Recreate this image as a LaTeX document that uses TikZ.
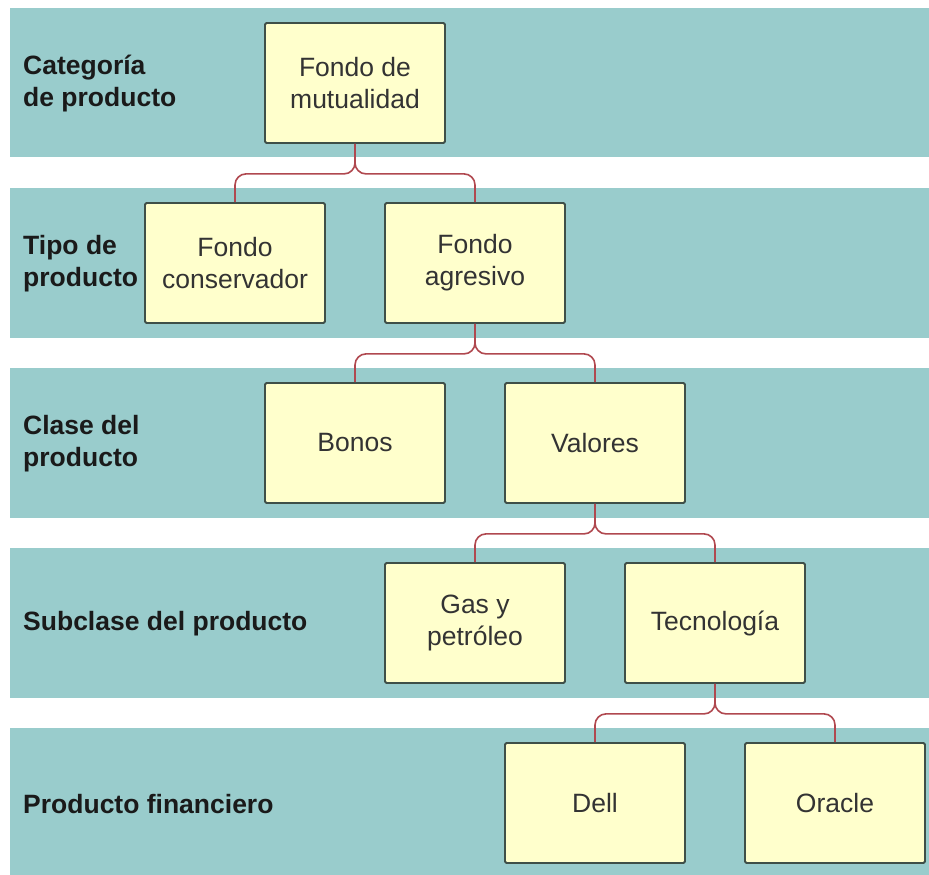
\documentclass[tikz,border=0pt]{standalone}
\usepackage{fontspec}
\setmainfont{Liberation Sans}
\begin{document}
\begin{tikzpicture}[x=1pt,y=-1pt,
  band/.style={fill=bandcol,draw=none},
  box/.style={draw=boxline,line width=1.8pt,fill=boxfill,rounded corners=1.5pt,
    minimum width=180pt,minimum height=120pt,inner sep=0pt,align=center,
    text=boxtext,font=\fontsize{26.5}{32}\selectfont},
  lab/.style={anchor=west,align=left,inner sep=0pt,text=labtext,
    font=\fontsize{26.5}{32}\selectfont\bfseries},
  conn/.style={draw=conncol,line width=1.6pt,rounded corners=11pt}]
\definecolor{bandcol}{HTML}{99CCCC}
\definecolor{boxfill}{HTML}{FFFFCC}
\definecolor{boxline}{HTML}{3F4F48}
\definecolor{boxtext}{HTML}{333333}
\definecolor{labtext}{HTML}{1A1A1A}
\definecolor{conncol}{HTML}{B0484F}
\useasboundingbox (0,0) rectangle (929,875);
\fill[white] (0,0) rectangle (929,875);
% bands
\path[band] (10,8) rectangle (929,157);
\path[band] (10,188) rectangle (929,338);
\path[band] (10,368) rectangle (929,518);
\path[band] (10,548) rectangle (929,698);
\path[band] (10,728) rectangle (929,875);
% labels
\node[lab] (l1) at (23,84) {Categoría\\de producto};
\node[lab] (l2) at (23,264) {Tipo de\\producto};
\node[lab] (l3) at (23,444) {Clase del\\producto};
\node[lab] (l4) at (23,624) {Subclase del producto};
\node[lab] (l5) at (23,804) {Producto financiero};
% boxes
\node[box] (fm) at (355,83) {Fondo de\\mutualidad};
\node[box] (fc) at (235,263) {Fondo\\conservador};
\node[box] (fa) at (475,263) {Fondo\\agresivo};
\node[box] (bo) at (355,443) {Bonos};
\node[box] (va) at (595,443) {Valores};
\node[box] (gp) at (475,623) {Gas y\\petróleo};
\node[box] (te) at (715,623) {Tecnología};
\node[box] (de) at (595,803) {Dell};
\node[box] (or) at (835,803) {Oracle};
% connectors
\draw[conn] (fm.south) -- ++(0,30) -| (fc.north);
\draw[conn] (fm.south) -- ++(0,30) -| (fa.north);
\draw[conn] (fa.south) -- ++(0,30) -| (bo.north);
\draw[conn] (fa.south) -- ++(0,30) -| (va.north);
\draw[conn] (va.south) -- ++(0,30) -| (gp.north);
\draw[conn] (va.south) -- ++(0,30) -| (te.north);
\draw[conn] (te.south) -- ++(0,30) -| (de.north);
\draw[conn] (te.south) -- ++(0,30) -| (or.north);
\end{tikzpicture}
\end{document}
